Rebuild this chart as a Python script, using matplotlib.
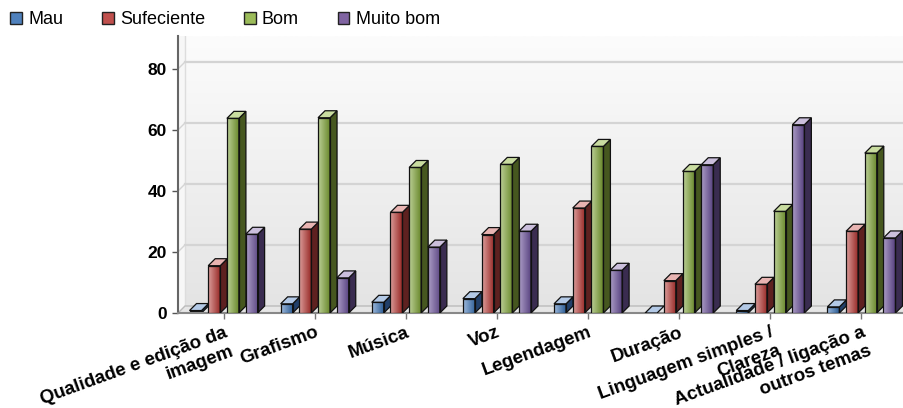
# Avaliação dos vídeos: barras 3D agrupadas por critério
import numpy as np
import matplotlib.pyplot as plt
from matplotlib.patches import Polygon, Rectangle
from matplotlib.colors import LinearSegmentedColormap

plt.rcParams['font.family'] = ['Liberation Sans', 'DejaVu Sans']

categorias = ["Qualidade e edição da\nimagem", "Grafismo", "Música", "Voz", "Legendagem",
              "Duração", "Linguagem simples /\nClareza", "Actualidade / ligação a\noutros temas"]
series = ["Mau", "Sufeciente", "Bom", "Muito bom"]
mau = [0.8, 3.0, 3.5, 4.7, 3.0, 0.0, 0.8, 2.0]
sufeciente = [15.5, 27.5, 33.0, 25.7, 34.4, 10.6, 9.4, 26.8]
bom = [63.8, 64.0, 47.7, 48.7, 54.6, 46.4, 33.3, 52.4]
muito_bom = [25.8, 11.5, 21.6, 26.8, 14.0, 48.6, 61.7, 24.6]
valores = [mau, sufeciente, bom, muito_bom]

# cores: base (legenda), frente clara, frente escura, lado, topo
cor_base = ["#4F81BD", "#C0504D", "#9BBB59", "#8064A2"]
cor_clara = ["#9db9dc", "#dc9d9b", "#bccf96", "#ab9dc6"]
cor_escura = ["#2f5f97", "#9a2e2b", "#6b8a2e", "#5b4582"]
cor_lado = ["#22406a", "#5e2120", "#46571f", "#3a2c50"]
cor_topo = ["#b3c9e6", "#e8b4b2", "#c9dca0", "#cbbfdc"]

fig = plt.figure(figsize=(9.04, 4.08), dpi=100)
ax = fig.add_axes([178 / 904, 1 - 313 / 408, 729 / 904, 277 / 408])

x0, x1 = -0.5, 7.5
ymax = 90.8
px_x = 729 / (x1 - x0)
px_y = 277 / ymax
dx = 7 / px_x
dy = 7 / px_y
largura = 12 / px_x
passo = 18.7 / px_x

# parede do fundo com gradiente
fundo = LinearSegmentedColormap.from_list("fundo", ["#e4e4e4", "#fcfcfc"])
grad = np.linspace(0, 1, 256).reshape(-1, 1)
ax.imshow(grad, extent=[x0 + dx, x1 + dx, dy, ymax], origin='lower', aspect='auto',
          cmap=fundo, zorder=0)
ax.add_patch(Polygon([(x0, 0), (x0 + dx, dy), (x0 + dx, ymax), (x0, ymax)],
                     closed=True, facecolor="#f7f7f7", edgecolor="none", zorder=0.5))
ax.plot([x0 + dx, x0 + dx], [dy, ymax], color="#dddddd", lw=1, zorder=0.6)

# chão
ax.add_patch(Polygon([(x0, 0), (x0 + dx, dy), (x1 + dx, dy), (x1, 0)], closed=True,
                     facecolor="#e6e6e6", edgecolor="#bbbbbb", lw=1, zorder=0.7))

# linhas de grelha na parede
for v in [20, 40, 60, 80]:
    ax.plot([x0 + dx, x1 + dx], [v + dy, v + dy], color="#d4d4d4", lw=1.6, zorder=0.8)
    ax.plot([x0, x0 + dx], [v, v + dy], color="#d4d4d4", lw=1, zorder=0.8)

for i in range(len(categorias)):
    for k in range(len(series)):
        h = valores[k][i]
        c = i + (k - 1.5) * passo
        l, r = c - largura / 2, c + largura / 2
        z = 2 + i * 4 + k
        if h > 0:
            cm = LinearSegmentedColormap.from_list("b", [cor_clara[k], cor_escura[k]])
            ax.imshow(np.linspace(0, 1, 32).reshape(1, -1), extent=[l, r, 0, h],
                      aspect='auto', cmap=cm, zorder=z)
            ax.add_patch(Polygon([(r, 0), (r + dx, dy), (r + dx, h + dy), (r, h)], closed=True,
                                 facecolor=cor_lado[k], edgecolor="#111111", lw=0.9, zorder=z))
            ax.add_patch(Rectangle((l, 0), largura, h, facecolor="none",
                                   edgecolor="#111111", lw=0.9, zorder=z + 0.1))
        ax.add_patch(Polygon([(l, h), (r, h), (r + dx, h + dy), (l + dx, h + dy)], closed=True,
                             facecolor=cor_topo[k], edgecolor="#111111", lw=0.9, zorder=z))

ax.set_xlim(x0, x1)
ax.set_ylim(0, ymax)

ax.set_yticks([0, 20, 40, 60, 80])
ax.set_yticklabels(["0", "20", "40", "60", "80"], fontsize=12.5, fontweight='bold')
ax.set_xticks(range(len(categorias)))
ax.set_xticklabels(categorias, fontsize=13.5, fontweight='bold', rotation=20,
                   ha='right', rotation_mode='anchor', linespacing=1.2)
ax.tick_params(axis='y', length=4, width=1, color="#555555", pad=4)
ax.tick_params(axis='x', length=4, width=1, color="#777777", pad=4)

for s in ['top', 'right']:
    ax.spines[s].set_visible(False)
ax.spines['left'].set_color("#666666")
ax.spines['bottom'].set_color("#888888")
ax.spines['left'].set_linewidth(1.5)
ax.spines['bottom'].set_linewidth(1.5)

# legenda
handles = [Rectangle((0, 0), 1, 1, facecolor=cor_base[k], edgecolor="#222222", lw=1)
           for k in range(len(series))]
fig.legend(handles, series, loc='center left', bbox_to_anchor=(10 / 904, 1 - 20 / 408),
           ncol=4, frameon=False, fontsize=13, handlelength=0.65, handleheight=0.65,
           handletextpad=0.35, columnspacing=2.15, borderpad=0, borderaxespad=0)

fig.savefig("out.png", dpi=100)
